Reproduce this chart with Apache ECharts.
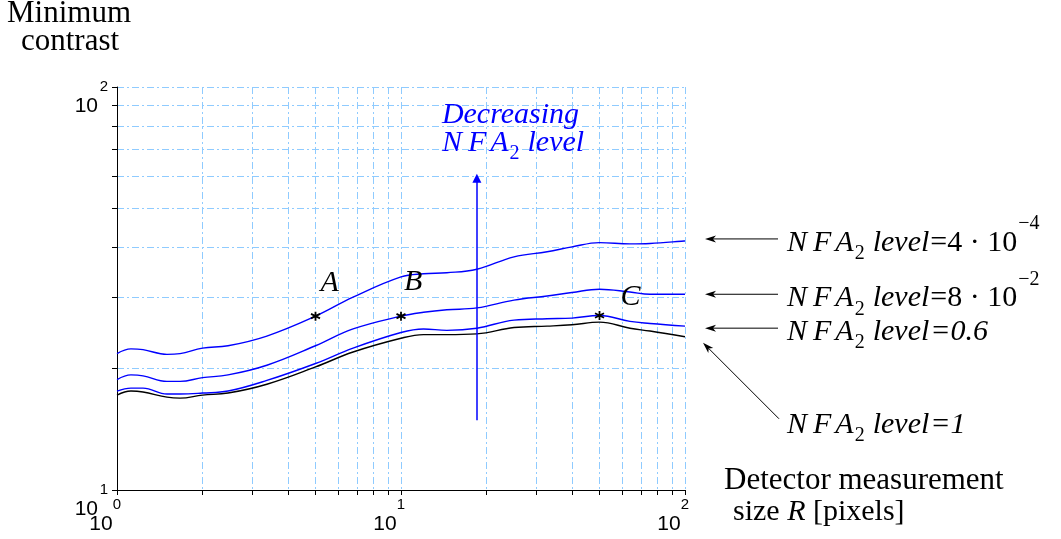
<!DOCTYPE html>
<html><head><meta charset="utf-8">
<script src="https://cdn.jsdelivr.net/npm/echarts@6/dist/echarts.min.js"></script>
<style>html,body{margin:0;padding:0;background:#fff}#c{width:1061px;height:539px}</style>
</head><body><div id="c"></div>
<script>
// ---- data ----
const xValues = [1.0, 1.12, 1.235, 1.5, 1.667, 2.0, 2.46, 3.37, 5.0, 6.78, 10, 12, 14.5, 18.5, 25, 32.7, 40, 50, 64, 75.3, 100];
const nfa4e4 = [21.8, 22.4, 22.3, 21.7, 21.8, 22.5, 22.8, 24.1, 27.0, 30.1, 33.8, 34.4, 34.6, 35.3, 37.9, 39.0, 40.1, 41.1, 40.8, 40.9, 41.5];
const nfa8e2 = [18.8, 19.3, 19.2, 18.6, 18.6, 19.0, 19.3, 20.4, 22.8, 25.1, 27.0, 27.6, 28.0, 28.3, 29.6, 30.3, 30.9, 31.5, 31.0, 30.6, 30.6];
const nfa06  = [17.6, 17.9, 17.9, 17.3, 17.3, 17.4, 17.6, 18.7, 20.6, 22.5, 24.6, 25.1, 24.9, 25.2, 26.4, 26.6, 26.7, 27.1, 26.2, 25.9, 25.5];
const nfa1   = [17.2, 17.6, 17.5, 17.0, 16.9, 17.2, 17.4, 18.3, 20.2, 22.0, 23.8, 24.3, 24.3, 24.4, 25.3, 25.5, 25.7, 26.1, 25.2, 24.8, 24.0];
const markNames = ['A', 'B', 'C'];
const markX = [5, 10, 50];
const markY = [27.0, 27.0, 27.1];
const arrowX = 18.5, arrowFrom = 14.9, arrowTo = 59.4;
const xTickValues = [1,2,3,4,5,6,7,8,9,10,20,30,40,50,60,70,80,90,100];
const yTickValues = [10,20,30,40,50,60,70,80,90,100];
const xLabelValues = [1, 10, 100];
const yLabelValues = [10, 100];
const levelTexts = [['=4 · 10', '−4'], ['=8 · 10', '−2'], ['=0.6', null], ['=1', null]];

// ---- styles ----
const SERIF = 'Liberation Serif';
const SANS = 'Liberation Sans';
const GRID = '#8fcbff';
const BLUE = '#0000ff';
const FS = 30;
const labelOffsets = [[15, -32], [13, -33], [32, -18]];

const chart = echarts.init(document.getElementById('c'));
const pairs = ys => xValues.map((x, i) => [x, ys[i]]);
const lineSeries = (name, ys, color) => ({
  name, type: 'line', data: pairs(ys), symbol: 'none', smooth: 0.4,
  lineStyle: {color, width: 1.4}, silent: true, z: 3
});

const axisCommon = {
  type: 'log', logBase: 10,
  axisLine: {show: true, onZero: false, lineStyle: {color: '#000', width: 1}},
  splitLine: {show: true, lineStyle: {color: GRID, width: 1, type: [7, 3, 2, 3]}},
};

const option = {
  animation: false,
  backgroundColor: '#fff',
  grid: {left: 117, right: 376, top: 87, bottom: 49, containLabel: false},
  xAxis: Object.assign({}, axisCommon, {
    min: 1, max: 100,
    axisTick: {show: true, length: 5, customValues: xTickValues, lineStyle: {color: '#000'}},
    axisLabel: {
      customValues: xLabelValues, margin: 7,
      formatter: v => '{s|' + Math.round(Math.log10(v)) + '}\n{b|10}',
      rich: {
        s: {fontFamily: SANS, fontSize: 15, lineHeight: 16, color: '#000', align: 'center'},
        b: {fontFamily: SANS, fontSize: 21, lineHeight: 22, color: '#000', align: 'center', padding: [0, 32, 0, 0]}
      }
    }
  }),
  yAxis: Object.assign({}, axisCommon, {
    min: 10, max: 100,
    axisTick: {show: true, length: 5, customValues: yTickValues, lineStyle: {color: '#000'}},
    axisLabel: {show: false}
  }),
  series: [
    lineSeries('NFA2 level=4e-4', nfa4e4, BLUE),
    lineSeries('NFA2 level=8e-2', nfa8e2, BLUE),
    lineSeries('NFA2 level=0.6', nfa06, BLUE),
    lineSeries('NFA2 level=1', nfa1, '#000'),
    {
      type: 'scatter', silent: true, z: 5,
      symbol: 'path://M5,0L5,10M0.67,2.5L9.33,7.5M0.67,7.5L9.33,2.5',
      symbolSize: 9,
      itemStyle: {color: '#000', borderColor: '#000', borderWidth: 1.8, opacity: 1},
      label: {show: true, formatter: '{b}', fontFamily: SERIF, fontStyle: 'italic', fontSize: FS,
        color: '#000', textBorderWidth: 0, align: 'center', verticalAlign: 'middle'},
      data: markNames.map((n, i) => ({name: n, value: [markX[i], markY[i]],
        label: {position: [4.5 + labelOffsets[i][0], 4.5 + labelOffsets[i][1]]}})),
      markLine: {
        silent: true, symbol: ['none', 'triangle'], symbolSize: 9,
        label: {show: false},
        lineStyle: {color: BLUE, width: 1.5, type: 'solid', opacity: 1},
        data: [[{coord: [arrowX, arrowFrom]}, {coord: [arrowX, arrowTo]}]]
      }
    }
  ]
};
chart.setOption(option);

// ---- annotations ----
const ctx = document.createElement('canvas').getContext('2d');
const fontOf = p => (p.it ? 'italic ' : '') + p.sz + 'px "' + (p.fam || SERIF) + '"';
const tw = (t, p) => { ctx.font = fontOf(p); return ctx.measureText(t).width; };
function mathText(x, y, parts, color, align) {
  const els = [];
  const total = parts.reduce((s, p) => s + tw(p.t, p) + (p.gap || 0), 0);
  let cx = align === 'right' ? x - total : x;
  parts.forEach(p => {
    els.push({type: 'text', x: cx, y: y + (p.dy || 0), silent: true,
      style: {text: p.t, font: fontOf(p), fill: color, align: 'left', verticalAlign: 'middle'}});
    cx += tw(p.t, p) + (p.gap || 0);
  });
  return els;
}
const nfaParts = () => [
  {t: 'N', it: 1, sz: FS, gap: 6}, {t: 'F', it: 1, sz: FS, gap: 4}, {t: 'A', it: 1, sz: FS, gap: 1},
  {t: '2', sz: 20, dy: 11, gap: 8}
];
function arrowHead(tx, ty, dx, dy) {
  const L = 11, W = 3.5, N = 8;
  const px = -dy, py = dx;
  return {type: 'polygon', silent: true, shape: {points: [
    [tx, ty], [tx - dx * L + px * W, ty - dy * L + py * W], [tx - dx * N, ty - dy * N], [tx - dx * L - px * W, ty - dy * L - py * W]
  ]}, style: {fill: '#000'}};
}
function buildGraphic() {
  const g = [];
  const toPx = (x, y) => chart.convertToPixel({seriesIndex: 0}, [x, y]);
  yLabelValues.forEach(v => {
    const [x0, y0] = toPx(1, v);
    const e = String(Math.round(Math.log10(v)));
    g.push({type: 'text', x: x0 - 9, y: y0, silent: true,
      style: {text: e, font: '15px "' + SANS + '"', fill: '#000', align: 'right', verticalAlign: 'middle'}});
    g.push({type: 'text', x: x0 - 19, y: y0 + 19, silent: true,
      style: {text: '10', font: '21px "' + SANS + '"', fill: '#000', align: 'right', verticalAlign: 'middle'}});
  });

  const xr = toPx(100, 10)[0];
  const ends = [nfa4e4, nfa8e2, nfa06, nfa1].map(a => toPx(xValues[xValues.length - 1], a[a.length - 1])[1]);
  const tipX = xr + 20, tailX = xr + 93, textX = xr + 102;
  const ys = [ends[0] - 2, ends[1], ends[2] + 2];
  ys.forEach((y, i) => {
    g.push({type: 'line', silent: true, shape: {x1: tipX + 8, y1: y, x2: tailX, y2: y}, style: {stroke: '#000', lineWidth: 1}});
    g.push(arrowHead(tipX, y, -1, 0));
    const parts = nfaParts().concat([{t: 'level', it: 1, sz: FS, gap: 1}]);
    if (levelTexts[i][1]) {
      parts.push({t: levelTexts[i][0], sz: FS, gap: 1});
      parts.push({t: levelTexts[i][1], sz: 20, dy: -19});
    } else {
      parts.push({t: levelTexts[i][0], it: 1, sz: FS});
    }
    g.push(...mathText(textX, y + 4, parts, '#000'));
  });
  const t4 = [tipX - 2, ends[3] + 6], s4 = [tipX + 74, ends[3] + 82];
  const len = Math.hypot(t4[0] - s4[0], t4[1] - s4[1]);
  const ux = (t4[0] - s4[0]) / len, uy = (t4[1] - s4[1]) / len;
  g.push({type: 'line', silent: true, shape: {x1: s4[0], y1: s4[1], x2: t4[0] - ux * 8, y2: t4[1] - uy * 8}, style: {stroke: '#000', lineWidth: 1}});
  g.push(arrowHead(t4[0], t4[1], ux, uy));
  g.push(...mathText(textX, s4[1] + 6, nfaParts().concat([{t: 'level', it: 1, sz: FS, gap: 1}, {t: levelTexts[3][0], it: 1, sz: FS}]), '#000'));

  const ax = toPx(arrowX, 10)[0];
  g.push(...mathText(ax - 35, 115, [{t: 'Decreasing', it: 1, sz: FS}], BLUE));
  g.push(...mathText(ax - 35, 143, nfaParts().concat([{t: 'level', it: 1, sz: FS}]), BLUE));

  g.push(...mathText(7, 14, [{t: 'Minimum', sz: 31}], '#000'));
  g.push(...mathText(21, 42, [{t: 'contrast', sz: 31}], '#000'));
  g.push(...mathText(724, 481, [{t: 'Detector measurement', sz: 31}], '#000'));
  g.push(...mathText(733, 512, [{t: 'size ', sz: 30}, {t: 'R', it: 1, sz: 30}, {t: ' [pixels]', sz: 30}], '#000'));
  return g;
}
chart.setOption({graphic: buildGraphic()});
</script>
</body></html>
